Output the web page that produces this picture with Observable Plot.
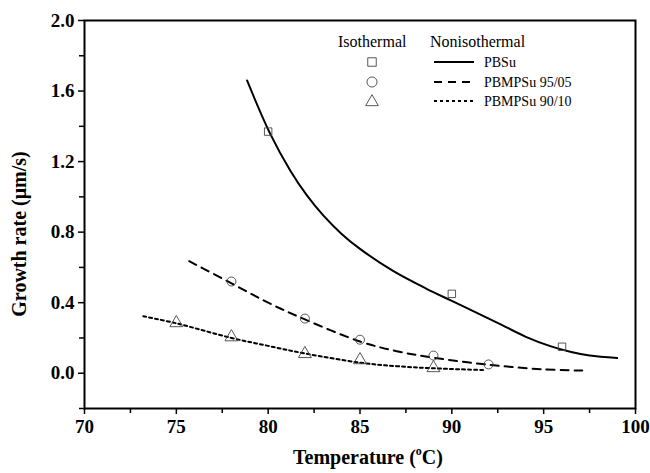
<!DOCTYPE html>
<html>
<head>
<meta charset="utf-8">
<script src="https://cdn.jsdelivr.net/npm/d3@7"></script>
<script src="https://cdn.jsdelivr.net/npm/@observablehq/plot@0.6"></script>
<style>
  html, body { margin: 0; padding: 0; background: #fff; }
  #chart { width: 650px; height: 473px; position: relative; }
</style>
</head>
<body>
<div id="chart"></div>
<script>
// Isothermal measurements
const pbsuIsoT = [80, 90, 96];
const pbsuIsoG = [1.37, 0.45, 0.15];
const p95IsoT = [78, 82, 85, 89, 92];
const p95IsoG = [0.52, 0.31, 0.19, 0.10, 0.05];
const p90IsoT = [75, 78, 82, 85, 89];
const p90IsoG = [0.285, 0.205, 0.11, 0.075, 0.03];

// Nonisothermal curves
const pbsuCurveT = [78.85, 80.1, 81.2, 82.1, 83.0, 84.0, 85.0, 86.8, 88.6, 90.0, 91.7, 92.6, 94.0, 95.4, 96.5, 97.5, 99.0];
const pbsuCurveG = [1.66, 1.36, 1.15, 1.01, 0.895, 0.79, 0.705, 0.58, 0.48, 0.41, 0.325, 0.28, 0.208, 0.152, 0.12, 0.10, 0.086];
const p95CurveT = [75.7, 78, 80, 82, 85, 87, 89, 92, 95, 97.1];
const p95CurveG = [0.635, 0.51, 0.40, 0.305, 0.18, 0.125, 0.088, 0.048, 0.022, 0.015];
const p90CurveT = [73.2, 75, 78, 80, 82, 85, 87, 89, 91.7];
const p90CurveG = [0.323, 0.283, 0.20, 0.155, 0.112, 0.06, 0.04, 0.028, 0.018];

const xMajor = [70, 75, 80, 85, 90, 95, 100];
const xMinor = [72.5, 77.5, 82.5, 87.5, 92.5, 97.5];
const yMajor = [0.0, 0.4, 0.8, 1.2, 1.6, 2.0];
const yMinor = [-0.2, 0.2, 0.6, 1.0, 1.4, 1.8];

const seriesNames = ["PBSu", "PBMPSu 95/05", "PBMPSu 90/10"];
const legendHeaders = ["Isothermal", "Nonisothermal"];

const zip = (t, g) => t.map((v, i) => ({T: v, G: g[i]}));

const font = '"Liberation Serif", "Times New Roman", serif';
const ptStroke = "#444";

const plot = Plot.plot({
  width: 650,
  height: 473,
  marginLeft: 84,
  marginRight: 15,
  marginTop: 20,
  marginBottom: 65,
  style: {fontFamily: font, background: "#fff", color: "#000"},
  x: {domain: [70, 100]},
  y: {domain: [-0.2, 2.0]},
  marks: [
    Plot.axisX({ticks: xMajor, tickSize: 6, tickPadding: 5, fontSize: 19, fontWeight: "bold", fontFamily: font, label: null, strokeWidth: 1.5, tickFormat: d3.format("d")}),
    Plot.axisX({ticks: xMinor, tickSize: 5, text: null, label: null, strokeWidth: 1.5}),
    Plot.axisY({ticks: yMajor, tickSize: 6, tickPadding: 4, fontSize: 19, fontWeight: "bold", fontFamily: font, label: null, strokeWidth: 1.5, tickFormat: d3.format(".1f")}),
    Plot.axisY({ticks: yMinor, tickSize: 5, text: null, label: null, strokeWidth: 1.5}),
    Plot.frame({stroke: "#000", strokeWidth: 2}),
    Plot.line(zip(pbsuCurveT, pbsuCurveG), {x: "T", y: "G", curve: "catmull-rom", stroke: "#000", strokeWidth: 2}),
    Plot.line(zip(p95CurveT, p95CurveG), {x: "T", y: "G", curve: "catmull-rom", stroke: "#000", strokeWidth: 2, strokeDasharray: "8,6"}),
    Plot.line(zip(p90CurveT, p90CurveG), {x: "T", y: "G", curve: "catmull-rom", stroke: "#000", strokeWidth: 2, strokeDasharray: "3,3"}),
    Plot.dot(zip(pbsuIsoT, pbsuIsoG), {x: "T", y: "G", symbol: "square", r: 4.2, stroke: ptStroke, strokeWidth: 0.9, fill: "none"}),
    Plot.dot(zip(p95IsoT, p95IsoG), {x: "T", y: "G", symbol: "circle", r: 4.5, stroke: ptStroke, strokeWidth: 0.9, fill: "none"}),
    Plot.dot(zip(p90IsoT, p90IsoG), {x: "T", y: "G", symbol: "triangle", r: 4.8, stroke: ptStroke, strokeWidth: 0.9, fill: "none"})
  ]
});

document.getElementById("chart").appendChild(plot);

const svg = d3.select(plot);
svg.selectAll("text")
  .style("font-family", font)
  .style("font-size", "19px")
  .style("font-weight", "bold")
  .attr("fill", "#000");

// Axis titles
const xt = svg.append("text")
  .attr("x", 368).attr("y", 464)
  .attr("text-anchor", "middle")
  .style("font-family", font).attr("font-size", 20).attr("font-weight", "bold")
  .attr("fill", "#000");
xt.append("tspan").text("Temperature (");
xt.append("tspan").text("o").attr("font-size", 12).attr("dy", -9);
xt.append("tspan").text("C)").attr("dy", 9);

svg.append("text")
  .attr("transform", "translate(26,234) rotate(-90)")
  .attr("text-anchor", "middle")
  .style("font-family", font).attr("font-size", 20).attr("font-weight", "bold")
  .attr("fill", "#000")
  .text("Growth rate (\u03bcm/s)");

// Legend
const lg = svg.append("g").style("font-family", font).attr("fill", "#000").attr("text-anchor", "start");
lg.append("text").attr("x", 338).attr("y", 47).attr("font-size", 16).text(legendHeaders[0]);
lg.append("text").attr("x", 430).attr("y", 47).attr("font-size", 16).text(legendHeaders[1]);
const rowsY = [62, 82, 101];
const symbols = [d3.symbolSquare, d3.symbolCircle, d3.symbolTriangle];
const symSizes = [72, 80, 70];
const dashes = [null, "8,6", "3,3"];
rowsY.forEach((yy, i) => {
  lg.append("path")
    .attr("d", d3.symbol(symbols[i], symSizes[i])())
    .attr("transform", `translate(372,${yy + (i === 2 ? 1 : 0)})`)
    .attr("fill", "none").attr("stroke", ptStroke).attr("stroke-width", 0.9);
  lg.append("line")
    .attr("x1", 434).attr("x2", 474).attr("y1", yy).attr("y2", yy)
    .attr("stroke", "#000").attr("stroke-width", 2)
    .attr("stroke-dasharray", dashes[i]);
  lg.append("text").attr("x", 484).attr("y", yy + 5).attr("font-size", 14).text(seriesNames[i]);
});
</script>
</body>
</html>
